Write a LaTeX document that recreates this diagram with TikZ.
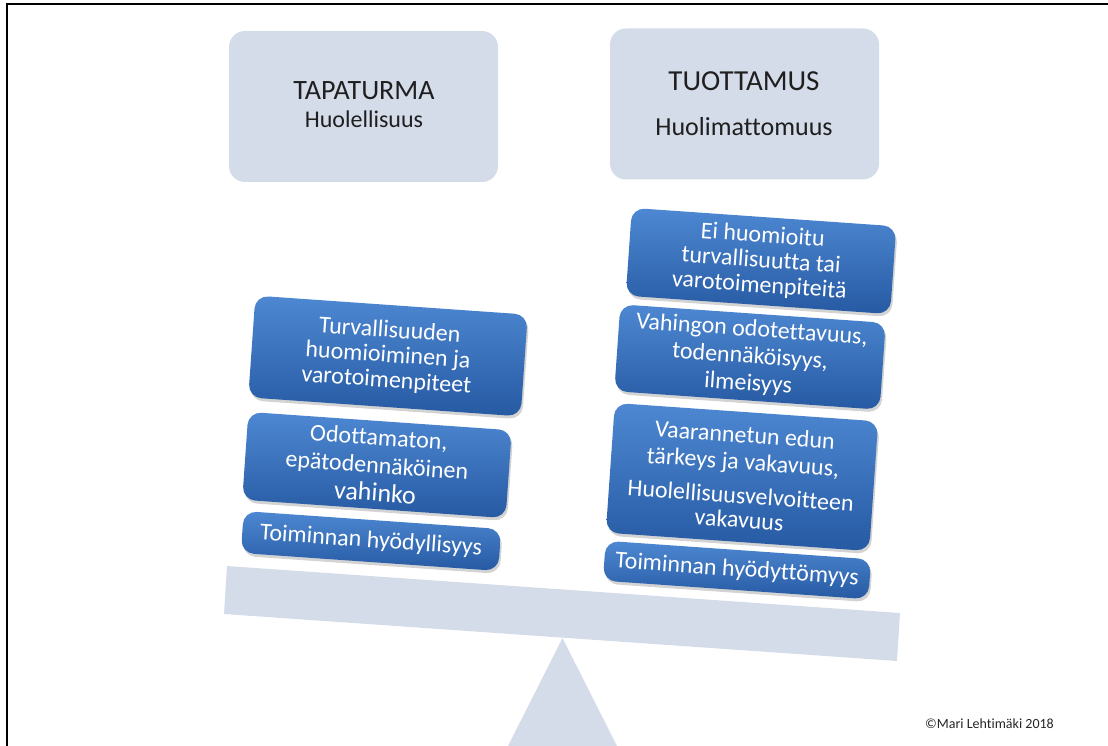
\documentclass[tikz,border=0pt]{standalone}
\usepackage{fontspec}
\setmainfont{Carlito}[Ligatures=CommonOff]
\usetikzlibrary{shadows}
\definecolor{pale}{RGB}{213,220,233}
\definecolor{btop}{RGB}{78,136,210}
\definecolor{bbot}{RGB}{38,90,163}
\begin{document}
\begin{tikzpicture}[x=1pt,y=-1pt,
  topbox/.style={fill=pale, rounded corners=16pt, minimum width=269pt, minimum height=151pt, inner sep=0pt},
  bluebox/.style={rounded corners=13pt, top color=btop, bottom color=bbot, draw=none, text=white,
    align=center, rotate=-4, inner sep=0pt, font=\fontsize{24}{25}\selectfont,
    drop shadow={shadow xshift=1.5pt, shadow yshift=-3pt, opacity=0.35}},
  titletext/.style={text=black!88, inner sep=0pt}
]
\useasboundingbox (0,0) rectangle (1108,746);
% frame
\draw[line width=2pt] (6.5,746) -- (6.5,4.5) -- (1108,4.5);
% top boxes
\node[topbox] (tap) at (363.5,106.5) {};
\node[titletext, font=\fontsize{28}{32}\selectfont] (tapt) at (364,91) {TAPATURMA};
\node[titletext, font=\fontsize{24}{28}\selectfont] (taps) at (364,119) {Huolellisuus};
\node[topbox] (tuo) at (744.5,104) {};
\node[titletext, font=\fontsize{29}{33}\selectfont] (tuot) at (744,81.5) {TUOTTAMUS};
\node[titletext, font=\fontsize{26}{30}\selectfont] (tuos) at (744,126.5) {Huolimattomuus};
% scale
\fill[pale] (562.5,638) -- (617,746) -- (508,746) -- cycle;
\fill[pale] (227,566) -- (900,613) -- (897,661) -- (224,614) -- cycle;
% left stack
\node[bluebox, minimum width=273pt, minimum height=102pt] (l1) at (388,356)
  {Turvallisuuden\\ huomioiminen ja\\ varotoimenpiteet};
\node[bluebox, minimum width=264pt, minimum height=88pt, font=\fontsize{24}{28}\selectfont] (l2) at (377,465)
  {Odottamaton,\\ epätodennäköinen\\ {\fontsize{26}{28}\selectfont vahinko}};
\node[bluebox, minimum width=258pt, minimum height=42pt] (l3) at (371,541)
  {Toiminnan hyödyllisyys};
% right stack
\node[bluebox, minimum width=265pt, minimum height=88pt] (r1) at (761,261)
  {Ei huomioitu\\ turvallisuutta tai\\ varotoimenpiteitä};
\node[bluebox, minimum width=266pt, minimum height=87pt, font=\fontsize{24}{27}\selectfont] (r2) at (750,357)
  {Vahingon odotettavuus,\\ todennäköisyys,\\ ilmeisyys};
\node[bluebox, minimum width=264pt, minimum height=130pt, font=\fontsize{24}{27}\selectfont] (r3) at (742,477)
  {Vaarannetun edun\\ tärkeys ja vakavuus,\\[7pt] Huolellisuusvelvoitteen\\[-3pt] vakavuus};
\node[bluebox, minimum width=266pt, minimum height=40pt] (r4) at (737,570)
  {Toiminnan hyödyttömyys};
% copyright
\node[font=\fontsize{14}{16}\selectfont, text=black!85, inner sep=0pt] (copy) at (989.5,724) {©Mari Lehtimäki 2018};
\end{tikzpicture}
\end{document}
